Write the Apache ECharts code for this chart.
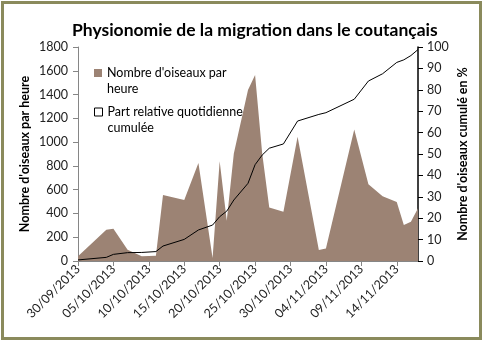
<!DOCTYPE html>
<html>
<head>
<meta charset="utf-8">
<script src="https://cdn.jsdelivr.net/npm/echarts@6/dist/echarts.min.js"></script>
<style>
html,body{margin:0;padding:0;background:#fff;}
#c{width:483px;height:341px;}
</style>
</head>
<body>
<div id="c"></div>
<script>
// ---- data ----
var startDate = '2013-09-30';
var endDate = '2013-11-17';
var dates = ['2013-09-30','2013-10-04','2013-10-05','2013-10-07','2013-10-09','2013-10-11','2013-10-12',
  '2013-10-15','2013-10-17','2013-10-19','2013-10-20','2013-10-21','2013-10-22','2013-10-24','2013-10-25',
  '2013-10-26','2013-10-27','2013-10-29','2013-10-31','2013-11-03','2013-11-04','2013-11-08','2013-11-10',
  '2013-11-12','2013-11-14','2013-11-15','2013-11-16','2013-11-17'];
var birdsPerHour = [40,262,272,95,40,45,555,513,825,25,840,338,905,1438,1564,906,449,415,1046,92,106,1107,645,545,497,303,330,443];
var cumulativePct = [0.5,1.7,3.1,3.9,4.0,4.4,7.0,10.1,14.5,16.8,20.7,23.3,28.5,36.3,45.0,49.5,52.7,54.7,65.4,68.5,69.3,75.6,84.1,87.5,92.8,94.0,96.0,98.8];
var leftTicks = {min:0, max:1800, interval:200};
var rightTicks = {min:0, max:100, interval:10};
var dayStep = 5;
var titleText = 'Physionomie de la migration dans le coutançais';
var seriesNames = ["Nombre d'oiseaux par heure", 'Part relative quotidienne cumulée'];
var legendLines = [["Nombre d'oiseaux par", 'heure'], ['Part relative quotidienne', 'cumulée']];
var leftAxisName = "Nombre d'oiseaux par heure";
var rightAxisName = "Nombre d'oiseaux cumulé en %";

// ---- helpers ----
var DAY = 86400000;
function toMs(s){var p=s.split('-');return Date.UTC(+p[0],+p[1]-1,+p[2]);}
var t0 = toMs(startDate);
function dayOf(s){return Math.round((toMs(s)-t0)/DAY);}
function fmtDay(d){
  var dt=new Date(t0+d*DAY);
  var dd=('0'+dt.getUTCDate()).slice(-2), mm=('0'+(dt.getUTCMonth()+1)).slice(-2);
  return dd+'/'+mm+'/'+dt.getUTCFullYear();
}
var areaData = dates.map(function(d,i){return [dayOf(d), birdsPerHour[i]];});
var lineData = dates.map(function(d,i){return [dayOf(d), cumulativePct[i]];});

var FONT = 'Lato';
var legendText = {fontFamily:FONT, fontSize:12.5, color:'#000', lineHeight:16};
var chart = echarts.init(document.getElementById('c'), null, {renderer:'canvas'});
chart.setOption({
  animation:false,
  backgroundColor:'#fff',
  textStyle:{fontFamily:FONT},
  title:{text:titleText, left:67, top:16,
    textStyle:{fontFamily:FONT, fontSize:17.5, fontWeight:'bold', color:'#000'}},
  graphic:[{type:'rect', silent:true, z:-1,
    shape:{x:2.5,y:2.5,width:478,height:336},
    style:{fill:'none', stroke:'#8a8a5c', lineWidth:3}}],
  grid:{left:78, right:65, top:47, bottom:80},
  legend:[
    {data:[{name:seriesNames[0], icon:'rect'}], left:89, top:44, orient:'vertical',
     itemWidth:8, itemHeight:8,
     formatter:function(){return '\n'+legendLines[0].join('\n');},
     textStyle:legendText},
    {data:[{name:seriesNames[1], icon:'rect', itemStyle:{color:'#fff', borderColor:'#000', borderWidth:1}}],
     left:89, top:83, orient:'vertical',
     itemWidth:8, itemHeight:8,
     formatter:function(){return '\n'+legendLines[1].join('\n');},
     textStyle:legendText}
  ],
  xAxis:{type:'value', min:0, max:dayOf(endDate), interval:dayStep,
    axisLine:{lineStyle:{color:'#868686', width:1}},
    axisTick:{show:true, length:5, lineStyle:{color:'#868686'}},
    splitLine:{show:false},
    axisLabel:{rotate:45, margin:6, fontFamily:FONT, fontSize:12.5, color:'#222',
      formatter:function(v){return fmtDay(v);}, showMaxLabel:false}},
  yAxis:[
    {type:'value', min:leftTicks.min, max:leftTicks.max, interval:leftTicks.interval,
     name:leftAxisName, nameLocation:'middle', nameGap:47, nameRotate:90, nameMoveOverlap:false,
     nameTextStyle:{fontFamily:FONT, fontSize:12.5, fontWeight:'bold', color:'#000'},
     axisLine:{show:true, lineStyle:{color:'#868686'}},
     axisTick:{show:true, length:5, lineStyle:{color:'#868686'}},
     splitLine:{show:false},
     axisLabel:{margin:10, fontFamily:FONT, fontSize:12.5, color:'#222',
       formatter:function(v){return String(v);}}},
    {type:'value', min:rightTicks.min, max:rightTicks.max, interval:rightTicks.interval, position:'right',
     name:rightAxisName, nameLocation:'middle', nameGap:38, nameRotate:90, nameMoveOverlap:false,
     nameTextStyle:{fontFamily:FONT, fontSize:12.5, fontWeight:'bold', color:'#000'},
     axisLine:{show:true, lineStyle:{color:'#000', width:1.5}},
     axisTick:{show:true, length:5, lineStyle:{color:'#000'}},
     splitLine:{show:false},
     axisLabel:{margin:9, fontFamily:FONT, fontSize:12.5, color:'#222'}}
  ],
  series:[
    {name:seriesNames[0], type:'line', yAxisIndex:0, data:areaData, showSymbol:false,
     lineStyle:{width:0}, itemStyle:{color:'#9c8374'},
     areaStyle:{color:'#9c8374', opacity:1}, z:1},
    {name:seriesNames[1], type:'line', yAxisIndex:1, data:lineData, showSymbol:false,
     lineStyle:{width:1, color:'#000'}, itemStyle:{color:'#000'}, z:2}
  ]
});
</script>
</body>
</html>
